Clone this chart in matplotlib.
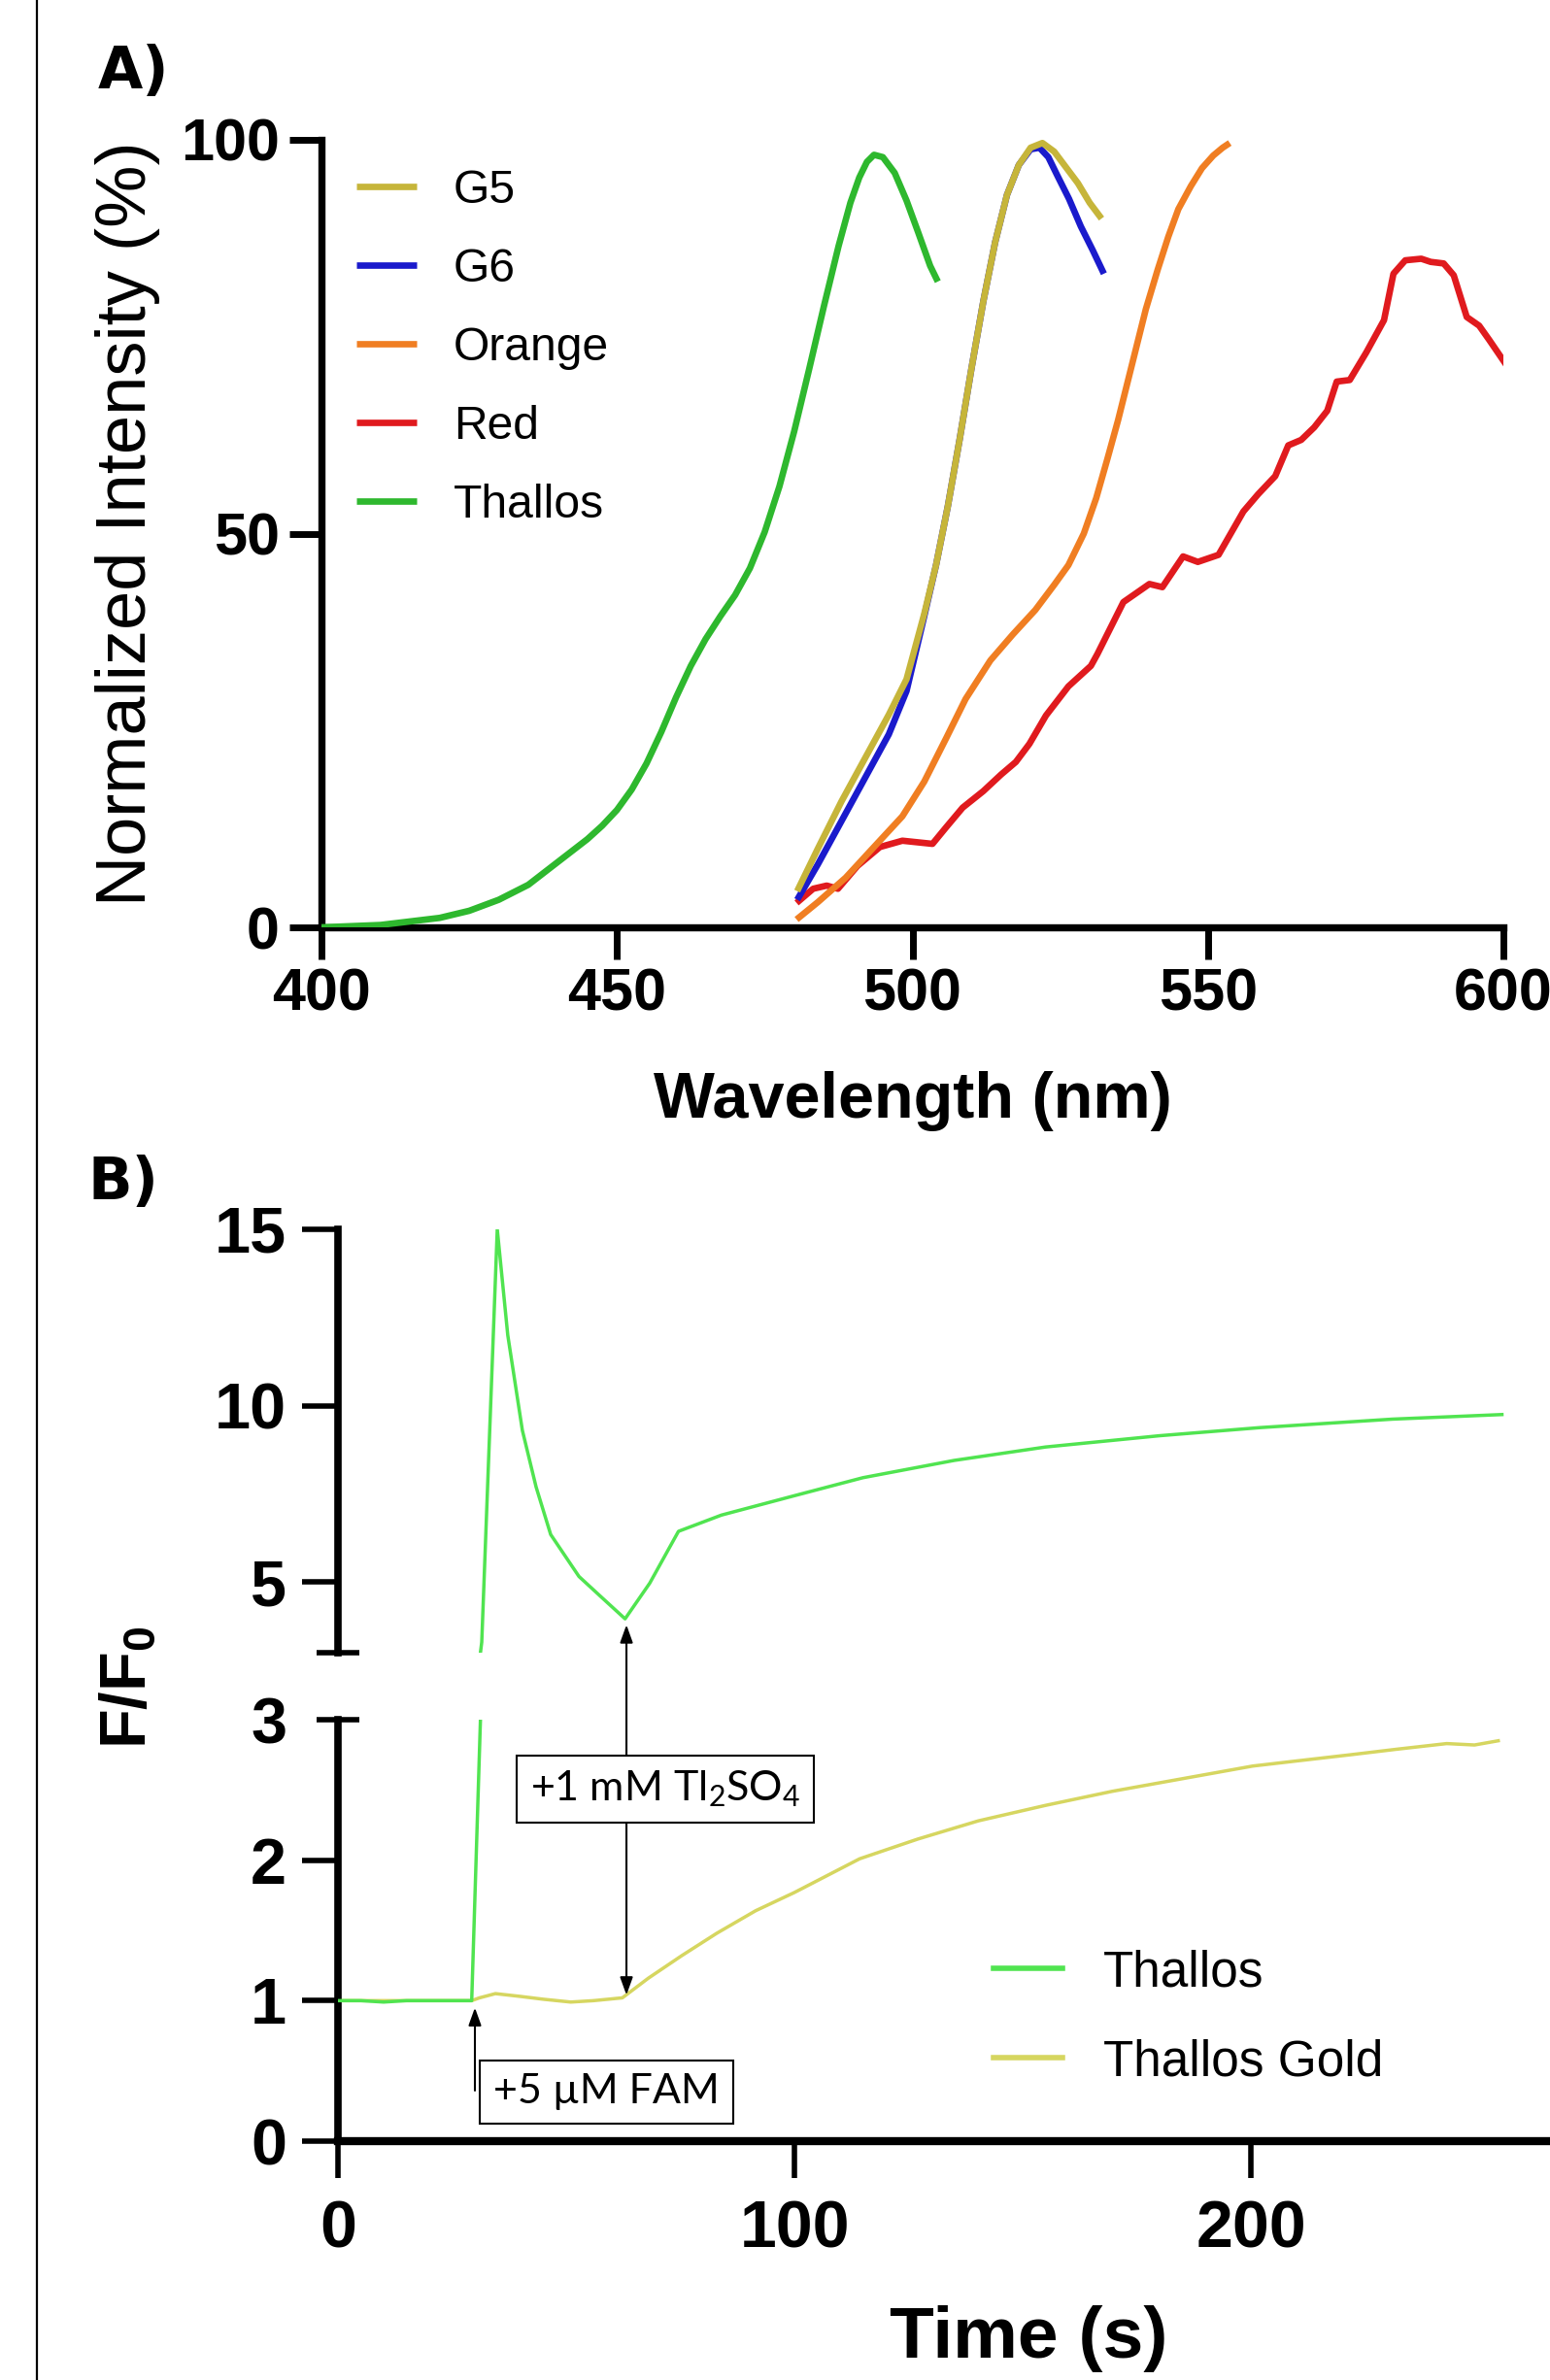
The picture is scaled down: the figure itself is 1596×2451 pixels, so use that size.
import matplotlib
matplotlib.use("Agg")
import matplotlib.pyplot as plt
from matplotlib.lines import Line2D

plt.rcParams["font.family"] = ["Liberation Sans", "DejaVu Sans"]
plt.rcParams["mathtext.default"] = "regular"

# ---- Panel A: normalized emission spectra ----------------------------------
thallos_wl = [400, 410, 420, 425, 430, 435, 440, 445, 447.5, 450, 452.5, 455,
              457.5, 460, 462.5, 465, 467.5, 470, 472.5, 475, 477.5, 480,
              482.5, 485, 487.5, 489.5, 491, 492.3, 493.5, 495, 497, 499, 501,
              503, 504.3]
thallos_int = [0, 0.3, 1.2, 2.1, 3.5, 5.4, 8.3, 11.2, 12.9, 14.9, 17.5, 20.8,
               24.8, 29.2, 33.2, 36.6, 39.5, 42.2, 45.6, 50.2, 56, 63, 70.8,
               78.8, 86.5, 92.0, 95.2, 97.2, 98.1, 97.8, 95.8, 92.3, 88.2,
               84.0, 82]

g5_wl = [480.5, 484, 488, 492, 496, 499, 502, 504, 506, 508, 510, 512, 514,
         516, 518, 520, 522, 524, 526, 528, 530, 532]
g5_int = [4.6, 10, 16, 21.5, 27, 31.5, 39.8, 46, 53.5, 62, 71, 79.5, 87, 93,
          96.8, 99, 99.6, 98.5, 96.5, 94.5, 92, 90]

g6_wl = [480.5, 484, 488, 492, 496, 499, 502, 504, 506, 508, 510, 512, 514,
         516, 518, 520, 521.5, 523, 524.5, 526.5, 528.5, 530.5, 532.4]
g6_int = [3.5, 8, 13.5, 19, 24.5, 30, 39.5, 46, 53.5, 62, 71, 79.5, 87, 93,
          96.8, 98.8, 99, 97.8, 95.5, 92.5, 89, 86, 83]

orange_wl = [480.4, 484, 488.7, 493, 498.3, 502, 505.7, 509, 513.2, 517,
             520.8, 524, 526.4, 529, 531.1, 533, 534.8, 537, 539.5, 541.5,
             543.3, 545, 547.1, 549, 550.9, 552.5, 553.7]
orange_int = [1.0, 3.2, 6.3, 9.8, 14.1, 18.5, 24, 29, 33.9, 37.2, 40.3, 43.5,
              46, 50, 54.5, 59.5, 64.4, 71, 78.5, 83.5, 87.7, 91.2, 94.1, 96.4,
              98, 99, 99.6]

red_wl = [480.4, 483.2, 485.5, 487.4, 490.7, 494.5, 498.3, 503.4, 505.7,
          508.5, 512, 515, 517.5, 519.8, 522.6, 526.4, 530.2, 531.3, 535.7,
          538, 540.1, 542.3, 545.8, 548.3, 551.8, 556, 558.5, 561.4, 563.6,
          565.8, 568, 570.2, 571.8, 574, 576.8, 579.8, 581.4, 583.4, 586.1,
          587.7, 589.9, 591.6, 593.8, 595.9, 597.6, 600.6]
red_int = [3.1, 4.9, 5.3, 4.9, 7.8, 10.2, 11, 10.6, 12.7, 15.2, 17.3, 19.4,
           21, 23.3, 26.9, 30.6, 33.2, 34.7, 41.3, 42.5, 43.6, 43.2, 47.1,
           46.4, 47.3, 52.8, 55, 57.3, 61.2, 61.9, 63.5, 65.6, 69.3, 69.5, 73,
           77.1, 83, 84.7, 84.9, 84.5, 84.3, 82.8, 77.5, 76.4, 74.6, 71.3]

spectra = [
    ("G5", g5_wl, g5_int, "#C6B53A", 4),
    ("G6", g6_wl, g6_int, "#1A1ACC", 3),
    ("Orange", orange_wl, orange_int, "#F07E22", 3),
    ("Red", red_wl, red_int, "#E01A1E", 2),
    ("Thallos", thallos_wl, thallos_int, "#2EB82E", 3),
]
a_xticks = [400, 450, 500, 550, 600]
a_yticks = [0, 50, 100]

# ---- Panel B: thallium flux traces ------------------------------------------
thallos_t = [0, 5, 10, 15, 20, 25, 29.3, 31.5, 34.9, 37.2, 40.4, 43.4, 46.6,
             52.8, 57.5, 62.9, 68.3, 74.6, 84, 100, 115, 135, 155, 180, 202,
             231, 255]
thallos_f = [1.0, 1.0, 0.99, 1.0, 1.0, 1.0, 1.0, 3.3, 15.0, 12.0, 9.3, 7.7,
             6.35, 5.16, 4.6, 3.96, 4.97, 6.44, 6.9, 7.45, 7.96, 8.45, 8.83,
             9.15, 9.38, 9.62, 9.75]

gold_t = [0, 10, 20, 29.3, 31, 34.5, 40, 45, 51, 56, 62.3, 68, 75.3, 83,
          91.5, 100, 114.3, 127, 140.3, 155, 169.6, 185, 200.4, 211, 221.7,
          232, 242.9, 249, 254.2]
gold_f = [1.0, 1.0, 1.0, 1.0, 1.02, 1.05, 1.03, 1.01, 0.99, 1.0, 1.02, 1.16,
          1.32, 1.48, 1.64, 1.77, 2.01, 2.15, 2.28, 2.39, 2.49, 2.58, 2.67,
          2.71, 2.75, 2.79, 2.83, 2.82, 2.85]

b_xticks = [0, 100, 200]
b_top_yticks = [5, 10, 15]
b_bot_yticks = [0, 1, 2]

fam_t, fam_from, fam_to = 30.0, 0.36, 0.95
tl_t, tl_low, tl_high = 63.2, 1.04, 3.79

W, H = 1596, 2451
fig = plt.figure(figsize=(W / 100, H / 100), dpi=100)
fig.patch.set_facecolor("white")

# ---------------- Panel A ----------------
axA = fig.add_axes([331 / W, 1 - 955 / H, 1217 / W, 811 / H])
handles = {}
for name, wl, inten, col, z in spectra:
    (ln,) = axA.plot(wl, inten, color=col, lw=4.8, zorder=z,
                     solid_capstyle="butt", solid_joinstyle="round")
    handles[name] = ln
axA.set_xlim(400, 600)
axA.set_ylim(0, 100)
axA.set_xticks(a_xticks)
axA.set_yticks(a_yticks)
for s in ["top", "right"]:
    axA.spines[s].set_visible(False)
for s in ["left", "bottom"]:
    axA.spines[s].set_linewidth(5.3)
axA.tick_params(axis="both", direction="out", length=24, width=5,
                labelsize=44)
axA.tick_params(axis="x", pad=6)
axA.tick_params(axis="y", pad=7)
for lab in axA.get_xticklabels() + axA.get_yticklabels():
    lab.set_fontweight("bold")
axA.set_xlabel("Wavelength (nm)", fontsize=48, fontweight="bold", va="baseline")
axA.xaxis.set_label_coords(0.5, (955 - 1151) / 811)
axA.set_ylabel("Normalized Intensity (%)", fontsize=52, va="baseline")
axA.yaxis.set_label_coords((150 - 331) / 1217, (955 - 539) / 811)
axA.patch.set_visible(False)

names = [s[0] for s in spectra]
axA.legend([handles[n] for n in names], names, loc="upper left",
           bbox_to_anchor=(0.0296, 0.963), frameon=False, fontsize=34.6,
           handlelength=1.3, handletextpad=0.78, labelspacing=0.75,
           borderpad=0, borderaxespad=0)

# ---------------- Panel B (broken y axis) ----------------
b_left = 348 / W
b_width = 1410 / W          # axis runs 0..300 s, cropped at right edge
axT = fig.add_axes([b_left, 1 - 1702 / H, b_width, 436 / H])
axB = fig.add_axes([b_left, 1 - 2205 / H, b_width, 434 / H])

green_b = "#50E450"
gold_b = "#D6D660"
for ax in (axT, axB):
    ax.plot(gold_t, gold_f, color=gold_b, lw=2.5, zorder=2)
    ax.plot(thallos_t, thallos_f, color=green_b, lw=2.5, zorder=3)
    ax.set_xlim(0, 300)
    ax.spines["top"].set_visible(False)
    ax.spines["right"].set_visible(False)
    ax.spines["left"].set_linewidth(5.5)
    ax.patch.set_visible(False)

axT.set_ylim(3, 15)
axT.spines["bottom"].set_visible(False)
axT.tick_params(axis="x", which="both", bottom=False, labelbottom=False)
axT.set_yticks(b_top_yticks)
axT.set_yticks([3], minor=True)
axT.tick_params(axis="y", which="major", direction="out", length=27,
                width=4, labelsize=48, pad=11)
axT.tick_params(axis="y", which="minor", direction="inout", length=32,
                width=4)

axB.set_ylim(0, 3)
axB.spines["bottom"].set_linewidth(6)
axB.set_xticks(b_xticks)
axB.set_yticks(b_bot_yticks)
axB.set_yticks([3], labels=["3"], minor=True)
axB.tick_params(axis="y", which="major", direction="out", length=27,
                width=4, labelsize=48, pad=11)
axB.tick_params(axis="y", which="minor", direction="inout", length=32,
                width=4, labelsize=48, pad=22)
axB.tick_params(axis="x", direction="out", length=27, width=4,
                labelsize=49, pad=16)
for ax in (axT, axB):
    for lab in (ax.get_xticklabels() + ax.get_yticklabels()
                + ax.get_yticklabels(minor=True)):
        lab.set_fontweight("bold")

axB.set_xlabel("Time (s)", fontsize=54, fontweight="bold", va="baseline")
axB.xaxis.set_label_coords((1059 - 348) / 1410, (2205 - 2428) / 434)
fig.text(150 / W, 1 - 1738 / H, "F/F$_0$", fontsize=48, fontweight="bold",
         rotation=90, rotation_mode="anchor", ha="center", va="baseline")

leg_handles = [Line2D([], [], color=green_b, lw=4),
               Line2D([], [], color=gold_b, lw=4)]
axB.legend(leg_handles, ["Thallos", "Thallos Gold"], loc="upper left",
           bbox_to_anchor=(0.479, 0.456), frameon=False, fontsize=37,
           handlelength=1.37, handletextpad=0.82, labelspacing=0.84,
           borderpad=0, borderaxespad=0)

# addition arrows and boxed labels
box_kw = dict(boxstyle="square,pad=0.32", fc="white", ec="black", lw=1.5)
axB.annotate("", xy=(fam_t, fam_to), xytext=(fam_t, fam_from),
             arrowprops=dict(arrowstyle="-|>,head_length=0.5,head_width=0.18",
                             color="black", lw=1.5, shrinkA=0, shrinkB=0,
                             mutation_scale=22))
axB.text(58.8, 0.35, "+5 \u00b5M FAM", fontsize=31, family=["Lato", "DejaVu Sans"],
         ha="center", va="center", bbox=box_kw, zorder=6)

axB.annotate("", xy=(tl_t, tl_high), xycoords=axT.transData,
             xytext=(tl_t, tl_low), textcoords=axB.transData,
             annotation_clip=False,
             arrowprops=dict(arrowstyle="<|-|>,head_length=0.5,head_width=0.18",
                             color="black", lw=1.5, shrinkA=0, shrinkB=0,
                             mutation_scale=22), zorder=4)
axB.text(71.7, 2.505, "+1 mM Tl$_2$SO$_4$", fontsize=31,
         family=["Lato", "DejaVu Sans"], ha="center", va="center",
         bbox=box_kw, zorder=6)

# panel letters and left border
fig.text(101 / W, 1 - 91 / H, "A)", fontsize=43, fontweight="bold",
         family="DejaVu Sans", ha="left", va="baseline")
fig.text(90 / W, 1 - 1235 / H, "B)", fontsize=43, fontweight="bold",
         family="DejaVu Sans", ha="left", va="baseline")
fig.add_artist(Line2D([38 / W, 38 / W], [0, 1], transform=fig.transFigure,
                      color="black", lw=1.6))

fig.savefig("out.png", dpi=100, facecolor="white")
